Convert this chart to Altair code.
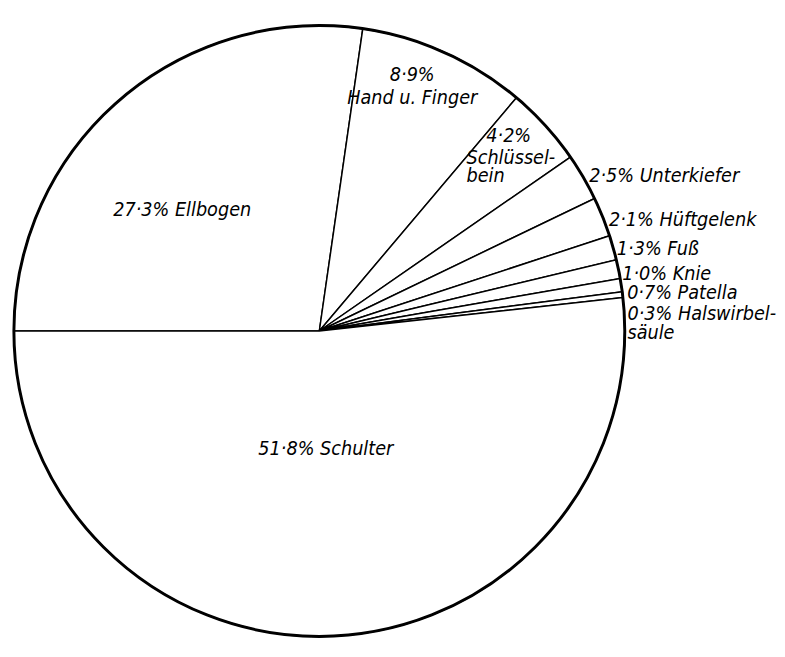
import math
import altair as alt
import pandas as pd

# ---- data ----
categories = ["Ellbogen", "Hand u. Finger", "Schlüsselbein", "Unterkiefer",
              "Hüftgelenk", "Fuß", "Knie", "Patella", "Halswirbelsäule", "Schulter"]
shares = [27.3, 8.9, 4.2, 2.5, 2.1, 1.3, 1.0, 0.7, 0.3, 51.8]
order = list(range(len(categories)))

df = pd.DataFrame({"cat": categories, "share": shares, "order": order})
total = sum(shares)


def pct(v):
    return f"{v:.1f}".replace(".", "·") + "%"


sh = dict(zip(categories, shares))

# ---- styling / layout ----
R = 311
FONT = "Liberation Sans Narrow, DejaVu Sans Condensed, DejaVu Sans"
FS = 20

theta_scale = alt.Scale(domain=[0, total], range=[1.5 * math.pi, 3.5 * math.pi])

base = alt.Chart(df).transform_window(
    cum="sum(share)", sort=[alt.SortField("order")], frame=[None, 0]
).transform_calculate(
    start="datum.cum - datum.share",
    mid="datum.cum - datum.share / 2",
)

slices = base.mark_arc(radius=R, fill="white", stroke="black", strokeWidth=1.5).encode(
    theta=alt.Theta("start:Q", scale=theta_scale, stack=False),
    theta2="cum:Q",
)

outline = alt.Chart(pd.DataFrame({"k": [0]})).mark_arc(
    radius=R, theta=0, theta2=2 * math.pi + 0.001, filled=False,
    stroke="black", strokeWidth=3,
).encode(strokeOpacity=alt.value(1))

# label specs: (category, text, radius, dx, dy, align, lineHeight)
label_specs = [
    ("Ellbogen", pct(sh["Ellbogen"]) + " Ellbogen", 175, -25, 9, "center", 20),
    ("Hand u. Finger", [pct(sh["Hand u. Finger"]), "Hand u. Finger"], 265, -14, -19, "center", 24),
    ("Schlüsselbein", pct(sh["Schlüsselbein"]), 270, -7, -17, "center", 20),
    ("Schlüsselbein", ["Schlüssel-", "bein"], 270, -50, 6, "left", 18),
    ("Unterkiefer", pct(sh["Unterkiefer"]) + " Unterkiefer", 318, 0, 2, "left", 20),
    ("Hüftgelenk", pct(sh["Hüftgelenk"]) + " Hüftgelenk", 318, 0, 6, "left", 20),
    ("Fuß", pct(sh["Fuß"]) + " Fuß", 318, -3, 3, "left", 20),
    ("Knie", pct(sh["Knie"]) + " Knie", 318, -3, 7, "left", 20),
    ("Patella", pct(sh["Patella"]) + " Patella", 318, -1, 9, "left", 20),
    ("Halswirbelsäule", [pct(sh["Halswirbelsäule"]) + " Halswirbel-", "säule"], 318, -2, 21, "left", 19),
    ("Schulter", pct(sh["Schulter"]) + " Schulter", 120, 0, 0, "center", 20),
]

labels = []
for cat, txt, r, dx, dy, align, lh in label_specs:
    labels.append(
        base.transform_filter(alt.datum.cat == cat).mark_text(
            text=txt, align=align, baseline="middle", dx=dx, dy=dy,
            font=FONT, fontStyle="italic", fontSize=FS, lineHeight=lh, color="black",
        ).encode(
            theta=alt.Theta("mid:Q", scale=theta_scale, stack=False),
            radius=alt.value(r),
        )
    )

chart = alt.layer(slices, outline, *labels).properties(
    width=622, height=646, padding=0, background="white"
).configure_view(strokeWidth=0)

chart.save("out.html", embed_options={"renderer": "svg", "actions": False})
